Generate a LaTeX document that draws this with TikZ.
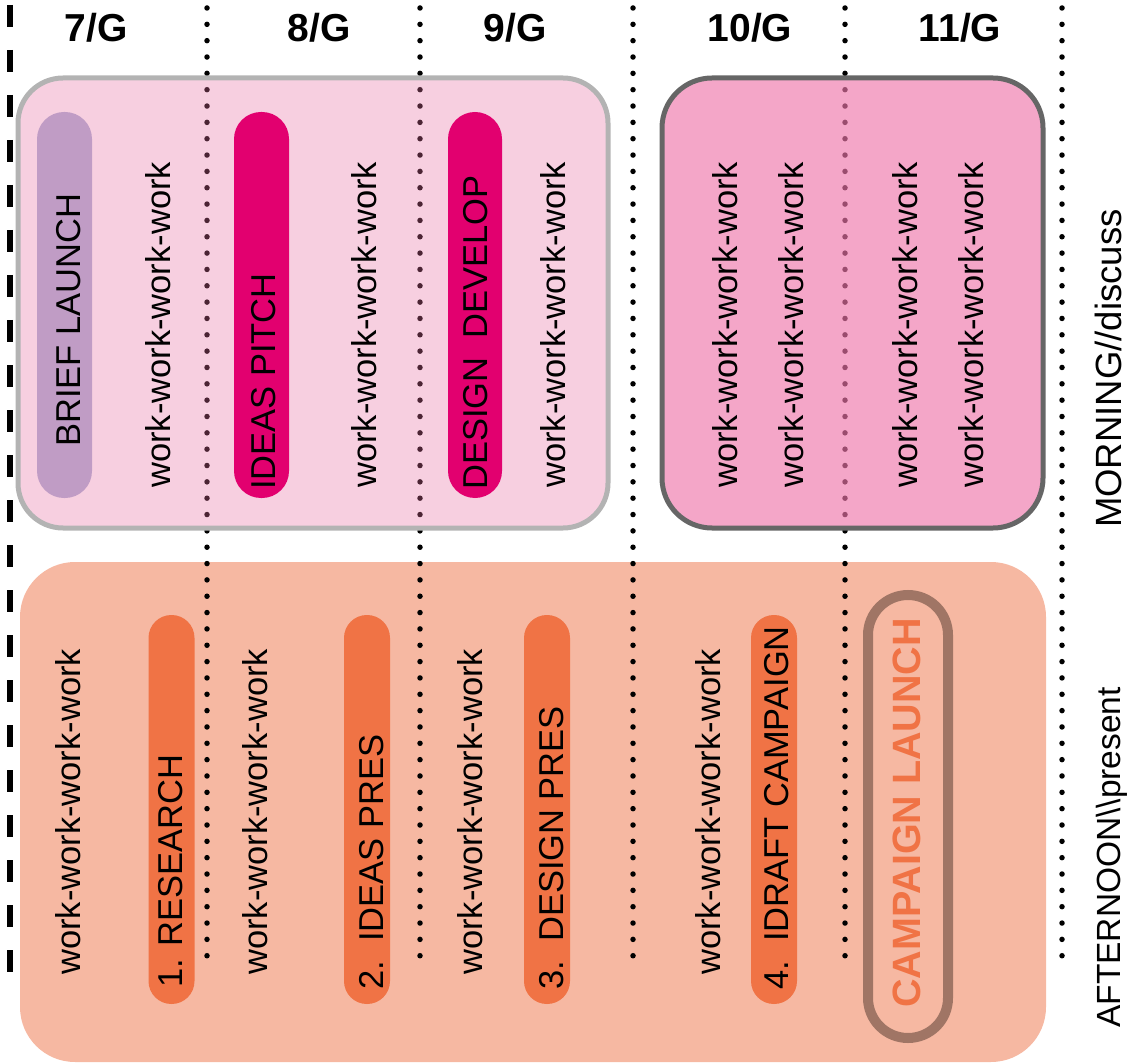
\documentclass[tikz,border=0pt]{standalone}
\usepackage{fontspec}
\setmainfont{Liberation Sans}
\usepackage{tikz}
\definecolor{morningpink}{RGB}{230,110,160}
\definecolor{presspink}{RGB}{238,118,170}
\definecolor{afterpeach}{RGB}{246,184,162}
\definecolor{pillorange}{RGB}{240,115,69}
\definecolor{pillpurple}{RGB}{192,156,197}
\definecolor{pillmagenta}{RGB}{226,0,111}
\definecolor{launchbrown}{RGB}{160,117,101}
\tikzstyle{panel}=[
   rounded corners=45pt,
   line width=5pt
]
\tikzstyle{timeline}=[
   line width=5.5pt,
   line cap=round,
   dash pattern=on 0pt off 16.34pt
]
\tikzstyle{pill}=[
   rectangle,
   inner sep=0pt
]
\tikzstyle{toppill}=[pill, rounded corners=27pt, minimum width=55pt, minimum height=386pt]
\tikzstyle{lowpill}=[pill, fill=pillorange, rounded corners=22.9pt, minimum width=46pt, minimum height=389pt]
\tikzstyle{vtext}=[
   rotate=90,
   anchor=base west,
   inner sep=0pt,
   font=\fontsize{34.5}{40}\selectfont
]
\tikzstyle{day}=[
   inner sep=0pt,
   font=\bfseries\fontsize{39}{44}\selectfont
]

\begin{document}
\begin{tikzpicture}[x=1pt,y=-1pt]
  \useasboundingbox (0,0) rectangle (1137,1064);

  \fill[afterpeach, rounded corners=55pt] (20,562) rectangle (1046,1062);

  \coordinate (t0) at (10,5);    \coordinate (b0) at (10,973);
  \coordinate (t1) at (207,8);   \coordinate (b1) at (207,972);
  \coordinate (t2) at (420,8);   \coordinate (b2) at (420,972);
  \coordinate (t3) at (633,8);   \coordinate (b3) at (633,972);
  \coordinate (t4) at (845,8);   \coordinate (b4) at (845,972);
  \coordinate (t5) at (1062,8);  \coordinate (b5) at (1062,972);

  \draw[line width=5.5pt, dash pattern=on 22pt off 23pt] (t0) -- (b0);
  \draw[timeline] (t1) -- (b1);
  \draw[timeline] (t2) -- (b2);
  \draw[timeline] (t3) -- (b3);
  \draw[timeline] (t4) -- (b4);
  \draw[timeline] (t5) -- (b5);

  \path[panel, draw={rgb,255:red,179;green,179;blue,179}, fill=morningpink, fill opacity=0.33]
    (18,78) rectangle (608,528);
  \path[panel, rounded corners=50pt, draw={rgb,255:red,102;green,102;blue,102}, fill=presspink, fill opacity=0.65]
    (662,78) rectangle (1043,528);

  \node[day] (d7)  at (96,28)  {7/G};
  \node[day] (d8)  at (319,28) {8/G};
  \node[day] (d9)  at (515,28) {9/G};
  \node[day] (d10) at (750,28) {10/G};
  \node[day] (d11) at (960,28) {11/G};

  \node[toppill, fill=pillpurple]  (brief)  at (64.5,305) {};
  \node[toppill, fill=pillmagenta] (pitch)  at (261.5,305) {};
  \node[toppill, fill=pillmagenta, minimum width=54pt] (develop) at (475,305) {};

  \node[vtext] (brieftxt)   at (80,447)  {BRIEF LAUNCH};
  \node[vtext] (work1)      at (170,488) {work-work-work-work};
  \node[vtext] (pitchtxt)   at (275,490) {IDEAS PITCH};
  \node[vtext] (work2)      at (376,488) {work-work-work-work};
  \node[vtext] (developtxt) at (487,490) {DESIGN\ \ DEVELOP};
  \node[vtext] (work3)      at (565,488) {work-work-work-work};
  \node[vtext] (work4)      at (737,488) {work-work-work-work};
  \node[vtext] (work5)      at (803,488) {work-work-work-work};
  \node[vtext] (work6)      at (917,488) {work-work-work-work};
  \node[vtext] (work7)      at (983,488) {work-work-work-work};

  \node[lowpill] (research) at (171.5,809.5) {};
  \node[lowpill] (ideaspres) at (367,809.5) {};
  \node[lowpill] (designpres) at (547,809.5) {};
  \node[lowpill] (draft) at (774,809.5) {};
  \node[pill, draw=launchbrown, line width=10pt, rounded corners=40pt,
        minimum width=80pt, minimum height=443pt] (launch) at (908,816.5) {};

  \node[vtext] (work8)         at (80,975)  {work-work-work-work};
  \node[vtext] (researchtxt)   at (182,988) {1. RESEARCH};
  \node[vtext] (work9)         at (267,975) {work-work-work-work};
  \node[vtext] (ideasprestxt)  at (383,990) {2.\ \ IDEAS PRES};
  \node[vtext] (work10)        at (482,975) {work-work-work-work};
  \node[vtext] (designprestxt) at (563,990) {3.\ \ DESIGN PRES};
  \node[vtext] (work11)        at (720,975) {work-work-work-work};
  \node[vtext] (drafttxt)      at (788,990) {4.\ \ IDRAFT CAMPAIGN};
  \node[vtext, text=pillorange, font=\bfseries\fontsize{39.5}{44}\selectfont]
        (launchtxt) at (920,1008) {CAMPAIGN LAUNCH};

  \node[vtext, font=\fontsize{36.5}{42}\selectfont] (morning)   at (1121,528)  {MORNING//discuss};
  \node[vtext, font=\fontsize{33.5}{40}\selectfont] (afternoon) at (1120,1028) {AFTERNOON\textbackslash\textbackslash present};

\end{tikzpicture}
\end{document}
